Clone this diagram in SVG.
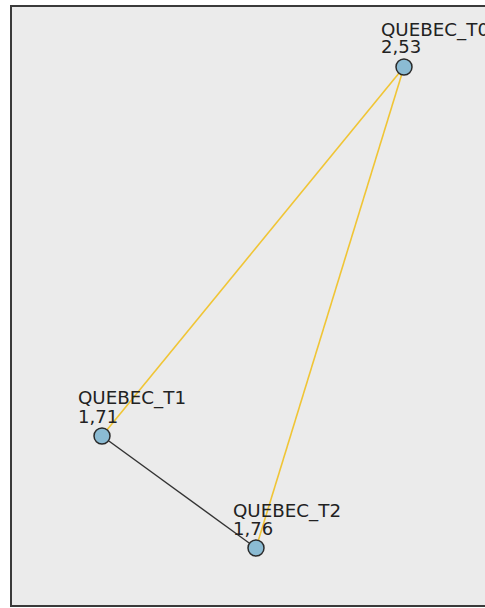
<svg xmlns="http://www.w3.org/2000/svg" width="485" height="608" viewBox="0 0 485 608">
<style>
.lbl{font-family:"DejaVu Sans","Liberation Sans",sans-serif;font-size:18px;fill:#222}
.nd{fill:#8bbbd3;stroke:#2a2a2a;stroke-width:1.5}
.ey{stroke:#f0c535;stroke-width:1.6;fill:none}
.ek{stroke:#333;stroke-width:1.4;fill:none}
</style>
<rect x="0" y="0" width="485" height="608" fill="#ffffff"/>
<rect x="11" y="6" width="480" height="600" fill="#ebebeb" stroke="#3a3a3a" stroke-width="2"/>
<g id="connectors">
<line class="ey" x1="404" y1="67" x2="102" y2="436"/>
<line class="ey" x1="404" y1="67" x2="256" y2="548"/>
<line class="ek" x1="102" y1="436" x2="256" y2="548"/>
</g>
<g id="QUEBEC_T0">
<circle class="nd" cx="404" cy="67" r="8"/>
<text class="lbl" x="381" y="36" textLength="108" lengthAdjust="spacingAndGlyphs">QUEBEC_T0</text>
<text class="lbl" x="381" y="53">2,53</text>
</g>
<g id="QUEBEC_T1">
<circle class="nd" cx="102" cy="436" r="8"/>
<text class="lbl" x="78" y="404" textLength="108" lengthAdjust="spacingAndGlyphs">QUEBEC_T1</text>
<text class="lbl" x="78" y="423">1,71</text>
</g>
<g id="QUEBEC_T2">
<circle class="nd" cx="256" cy="548" r="8"/>
<text class="lbl" x="233" y="517" textLength="108" lengthAdjust="spacingAndGlyphs">QUEBEC_T2</text>
<text class="lbl" x="233" y="535">1,76</text>
</g>
</svg>
